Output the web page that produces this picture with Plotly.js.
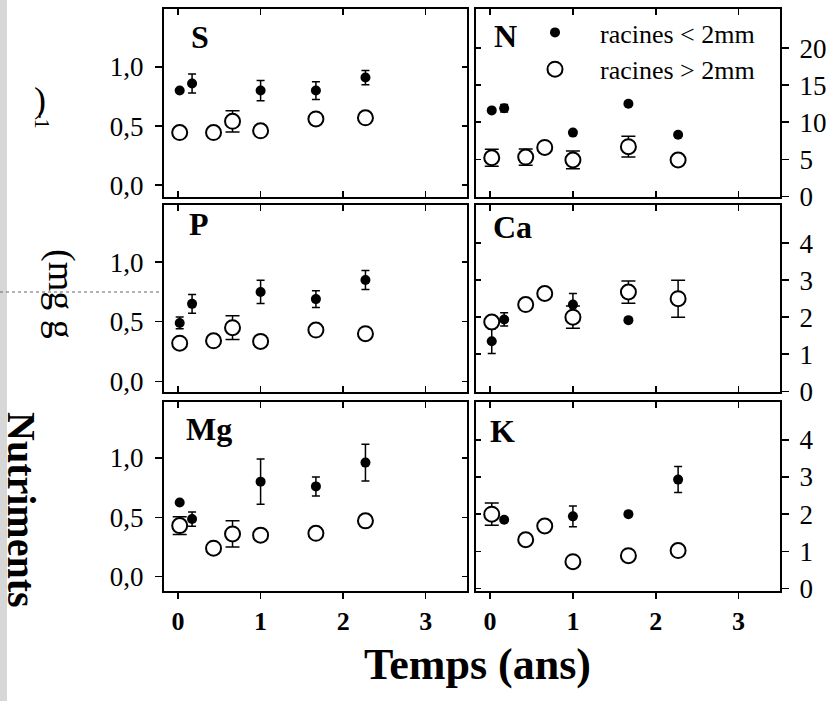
<!DOCTYPE html>
<html>
<head>
<meta charset="utf-8">
<script src="https://cdn.plot.ly/plotly-3.0.1.min.js"></script>
<style>html,body{margin:0;padding:0;background:#fff;}#chart{width:832px;height:701px;}</style>
</head>
<body>
<div id="chart"></div>
<script>
// ---- data ----
const panelNames = ['S', 'N', 'P', 'Ca', 'Mg', 'K'];
const seriesNames = ['racines < 2mm', 'racines > 2mm'];
// sampling times (years)
const tFine   = [0.02, 0.17, 1.0, 1.67, 2.27];
const tCoarse = [0.02, 0.43, 0.66, 1.0, 1.67, 2.27];

const sFine = [0.80, 0.86, 0.80, 0.80, 0.91];
const sFineErr = [0, 0.08, 0.085, 0.075, 0.06];
const sCoarse = [0.445, 0.445, 0.54, 0.46, 0.56, 0.57];
const sCoarseErr = [0, 0, 0.09, 0, 0, 0];

const nFine = [11.6, 11.9, 8.6, 12.5, 8.3];
const nFineErr = [0, 0.5, 0, 0, 0];
const nCoarse = [5.2, 5.3, 6.6, 4.9, 6.7, 4.9];
const nCoarseErr = [1.15, 1.1, 0, 1.2, 1.4, 0];

const pFine = [0.49, 0.65, 0.75, 0.69, 0.85];
const pFineErr = [0.05, 0.078, 0.098, 0.07, 0.08];
const pCoarse = [0.32, 0.34, 0.45, 0.335, 0.43, 0.40];
const pCoarseErr = [0, 0, 0.10, 0, 0, 0];

const caFine = [1.35, 1.94, 2.34, 1.92, null];
const caFineErr = [0.33, 0.18, 0.3, 0, 0];
const caCoarse = [1.87, 2.34, 2.64, 2.0, 2.68, 2.5];
const caCoarseErr = [0, 0, 0, 0.3, 0.3, 0.5];

const mgFine = [0.625, 0.485, 0.80, 0.76, 0.96];
const mgFineErr = [0, 0.06, 0.19, 0.08, 0.155];
const mgCoarse = [0.43, 0.24, 0.36, 0.35, 0.365, 0.47];
const mgCoarseErr = [0.075, 0, 0.11, 0, 0, 0];

const kFine = [null, 1.85, 1.94, 2.0, 2.93];
const kFineErr = [0, 0, 0.28, 0, 0.35];
const kCoarse = [2.0, 1.31, 1.68, 0.72, 0.88, 1.02];
const kCoarseErr = [0.3, 0, 0, 0, 0, 0];

const xTicks = [0, 1, 2, 3];
const leftTicks = [0, 0.5, 1.0];
const nTicks = [0, 5, 10, 15, 20];
const caKTicks = [0, 1, 2, 3, 4];

// ---- layout geometry (pixels) ----
const W = 832, H = 701;
const px = v => v / W;
const py = v => 1 - v / H;
const colX = [[164, 467], [476, 780]];
const rowY = [[9, 197], [205, 392], [402, 591]];
const xRange = [-0.17, 3.5];
const FONT = '"Liberation Serif", "Times New Roman", serif';

const panels = [
  {fine: sFine, fineErr: sFineErr, coarse: sCoarse, coarseErr: sCoarseErr, range: [-0.10, 1.49], ticks: leftTicks, fmt: '.1f', label: [189, 37]},
  {fine: nFine, fineErr: nFineErr, coarse: nCoarse, coarseErr: nCoarseErr, range: [-0.1, 25.3], ticks: nTicks, fmt: 'd', label: [492, 36]},
  {fine: pFine, fineErr: pFineErr, coarse: pCoarse, coarseErr: pCoarseErr, range: [-0.09, 1.48], ticks: leftTicks, fmt: '.1f', label: [187, 224]},
  {fine: caFine, fineErr: caFineErr, coarse: caCoarse, coarseErr: caCoarseErr, range: [-0.02, 5.03], ticks: caKTicks, fmt: 'd', label: [491, 227]},
  {fine: mgFine, fineErr: mgFineErr, coarse: mgCoarse, coarseErr: mgCoarseErr, range: [-0.12, 1.47], ticks: leftTicks, fmt: '.1f', label: [184, 429]},
  {fine: kFine, fineErr: kFineErr, coarse: kCoarse, coarseErr: kCoarseErr, range: [-0.07, 5.02], ticks: caKTicks, fmt: 'd', label: [488, 431]}
];

const traces = [];
const layout = {
  width: W, height: H,
  margin: {l: 0, r: 0, t: 0, b: 0},
  paper_bgcolor: '#ffffff', plot_bgcolor: 'rgba(0,0,0,0)',
  separators: ', ',
  showlegend: true,
  font: {family: FONT, color: '#000'},
  legend: {
    x: px(510), y: py(9), xanchor: 'left', yanchor: 'top',
    bgcolor: 'rgba(0,0,0,0)', borderwidth: 0,
    font: {family: FONT, size: 26, color: '#000'},
    itemwidth: 80, tracegroupgap: 0
  },
  annotations: [], shapes: []
};

panels.forEach((p, i) => {
  const row = Math.floor(i / 2), col = i % 2;
  const xb = 2 * i + 1, xo = 2 * i + 2;
  const xbName = 'x' + xb, ybName = 'y' + xb, xoName = 'x' + xo, yoName = 'y' + xo;
  const xd = [px(colX[col][0]), px(colX[col][1])];
  const yd = [py(rowY[row][1]), py(rowY[row][0])];
  const common = {showgrid: false, zeroline: false, showline: true, linecolor: '#000', linewidth: 2, tickcolor: '#000', tickwidth: 1.5, fixedrange: true};

  layout['xaxis' + xb] = Object.assign({}, common, {
    domain: xd, range: xRange, anchor: ybName, side: 'bottom',
    tickmode: 'array', tickvals: xTicks, ticktext: xTicks.map(String),
    ticks: row === 2 ? 'outside' : 'inside', ticklen: 6,
    showticklabels: row === 2,
    tickfont: {family: FONT, size: 26, weight: 'bold', color: '#000'}
  });
  layout['xaxis' + xo] = Object.assign({}, common, {
    overlaying: xbName, range: xRange, anchor: ybName, side: 'top',
    tickmode: 'array', tickvals: xTicks, ticks: 'inside', ticklen: 6, showticklabels: false
  });
  layout['yaxis' + xb] = Object.assign({}, common, {
    domain: yd, range: p.range, anchor: xbName, side: col === 0 ? 'left' : 'right',
    tickmode: 'array', tickvals: p.ticks, tickformat: p.fmt,
    ticks: 'outside', ticklen: 7, ticklabelstandoff: col === 0 ? 6 : 5,
    tickfont: {family: FONT, size: 27, color: '#000'}
  });
  layout['yaxis' + xo] = Object.assign({}, common, {
    overlaying: ybName, range: p.range, anchor: xbName, side: col === 0 ? 'right' : 'left',
    tickmode: 'array', tickvals: p.ticks, ticks: 'inside', ticklen: 5, showticklabels: false
  });

  traces.push({
    type: 'scatter', mode: 'markers', name: seriesNames[0], legendgroup: 'fine', showlegend: i === 0,
    x: tFine, y: p.fine, xaxis: xbName, yaxis: ybName,
    marker: {symbol: 'circle', size: 10, color: '#000'},
    error_y: {type: 'data', array: p.fineErr, visible: true, color: '#000', thickness: 1.5, width: 4},
    hoverinfo: 'x+y'
  });
  traces.push({
    type: 'scatter', mode: 'markers', name: seriesNames[1], legendgroup: 'coarse', showlegend: i === 0,
    x: tCoarse, y: p.coarse, xaxis: xbName, yaxis: ybName,
    marker: {symbol: 'circle', size: 15, color: '#fff', line: {color: '#000', width: 2}},
    error_y: {type: 'data', array: p.coarseErr, visible: true, color: '#000', thickness: 1.5, width: 7},
    hoverinfo: 'x+y'
  });
  traces.push({type: 'scatter', mode: 'markers', x: [], y: [], xaxis: xoName, yaxis: yoName, showlegend: false, hoverinfo: 'skip'});

  layout.annotations.push({
    text: '<b>' + panelNames[i] + '</b>', xref: 'paper', yref: 'paper',
    x: px(p.label[0]), y: py(p.label[1]), xanchor: 'left', yanchor: 'middle',
    showarrow: false, font: {family: FONT, size: 32, color: '#000'}
  });
});

// axis titles
layout.annotations.push({
  text: '<b>Temps (ans)</b>', xref: 'paper', yref: 'paper', x: px(478), y: py(664),
  xanchor: 'center', yanchor: 'middle', showarrow: false, font: {family: FONT, size: 44, color: '#000'}
});
layout.annotations.push({
  text: '<b>Nutriments</b>', xref: 'paper', yref: 'paper', x: px(22), y: py(510),
  xanchor: 'center', yanchor: 'middle', textangle: 90, showarrow: false, font: {family: FONT, size: 40, color: '#000'}
});
layout.annotations.push({
  text: '(mg g', xref: 'paper', yref: 'paper', x: px(62), y: py(294),
  xanchor: 'center', yanchor: 'middle', textangle: 90, showarrow: false, font: {family: FONT, size: 38, color: '#000'}
});
layout.annotations.push({
  text: ')', xref: 'paper', yref: 'paper', x: px(40), y: py(100),
  xanchor: 'center', yanchor: 'middle', showarrow: false, font: {family: FONT, size: 36, color: '#000'}
});
layout.annotations.push({
  text: '-1', xref: 'paper', yref: 'paper', x: px(42), y: py(120),
  xanchor: 'center', yanchor: 'middle', textangle: 90, showarrow: false, font: {family: FONT, size: 20, color: '#000'}
});

// scan artefacts
layout.shapes.push({type: 'rect', xref: 'paper', yref: 'paper', x0: 0, x1: px(7), y0: 0, y1: 1, line: {width: 0}, fillcolor: '#9a9a9a', opacity: 0.4, layer: 'below'});
layout.shapes.push({type: 'line', xref: 'paper', yref: 'paper', x0: 0, x1: px(160), y0: py(292), y1: py(292), line: {color: '#666', width: 1, dash: 'dot'}});

Plotly.newPlot('chart', traces, layout, {displayModeBar: false, staticPlot: true});
</script>
</body>
</html>
